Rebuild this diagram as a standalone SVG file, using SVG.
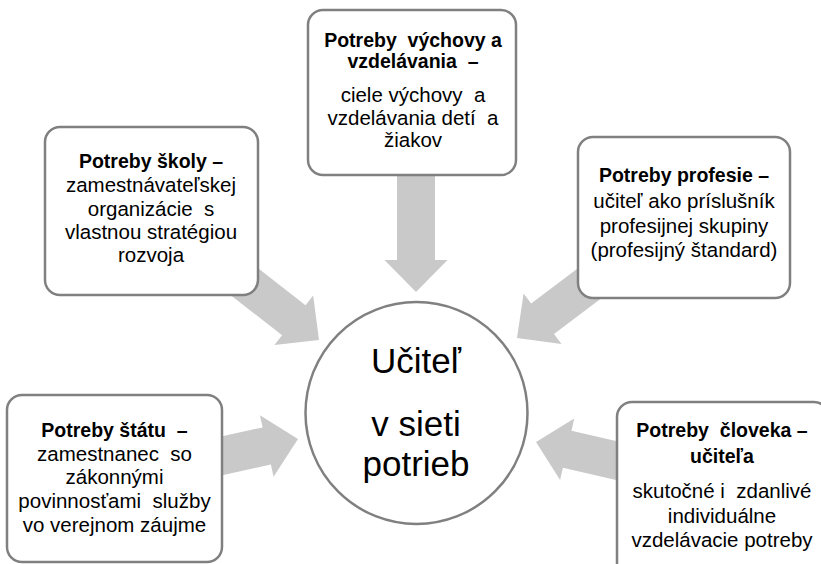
<svg xmlns="http://www.w3.org/2000/svg" width="821" height="564" viewBox="0 0 821 564">
<defs>
<style>
.box{fill:#fff;stroke:#808080;stroke-width:2.5}
.arr{fill:#c9c9c9;stroke:none}
text{font-family:"Liberation Sans",Arial,sans-serif;fill:#000;text-anchor:middle;white-space:pre}
.b{font-weight:bold;font-size:19.5px}
.r{font-size:20.5px}
.c{font-size:35px}
</style>
<polygon id="arrow" points="-130,-19 -32,-19 -32,-31.5 0,0 -32,31.5 -32,19 -130,19"/>
</defs>
<rect width="821" height="564" fill="#fff"/>
<g id="connectors">
<use href="#arrow" class="arr" transform="translate(416,292) rotate(90)"/>
<use href="#arrow" class="arr" transform="translate(319,340) rotate(38)"/>
<use href="#arrow" class="arr" transform="translate(517,338) rotate(143)"/>
<use href="#arrow" class="arr" transform="translate(298,439) rotate(-12.5)"/>
<use href="#arrow" class="arr" transform="translate(536,442) rotate(193)"/>
</g>
<g id="node-top">
<rect class="box" x="308" y="10" width="208" height="165" rx="15"/>
<text class="b" x="413" y="47">Potreby  výchovy a</text>
<text class="b" x="413" y="68">vzdelávania  –</text>
<text class="r" x="413" y="102">ciele výchovy  a</text>
<text class="r" x="413" y="125">vzdelávania detí  a</text>
<text class="r" x="413" y="147">žiakov</text>
</g>
<g id="node-skola">
<rect class="box" x="45" y="127" width="213" height="168" rx="15"/>
<text class="b" x="151" y="168">Potreby školy –</text>
<text class="r" x="151" y="192">zamestnávateľskej</text>
<text class="r" x="151" y="216">organizácie  s</text>
<text class="r" x="151" y="239">vlastnou stratégiou</text>
<text class="r" x="151" y="262">rozvoja</text>
</g>
<g id="node-profesia">
<rect class="box" x="578" y="137" width="212" height="161" rx="15"/>
<text class="b" x="684" y="182">Potreby profesie –</text>
<text class="r" x="684" y="208">učiteľ ako príslušník</text>
<text class="r" x="684" y="233">profesijnej skupiny</text>
<text class="r" x="684" y="257">(profesijný štandard)</text>
</g>
<g id="node-stat">
<rect class="box" x="7" y="395" width="215" height="167" rx="15"/>
<text class="b" x="114.5" y="437">Potreby štátu  –</text>
<text class="r" x="114.5" y="461">zamestnanec  so</text>
<text class="r" x="114.5" y="484">zákonnými</text>
<text class="r" x="114.5" y="508">povinnosťami  služby</text>
<text class="r" x="114.5" y="532">vo verejnom záujme</text>
</g>
<g id="node-clovek">
<rect class="box" x="617" y="402" width="212" height="180" rx="15"/>
<text class="b" x="722" y="437">Potreby  človeka –</text>
<text class="b" x="722" y="463">učiteľa</text>
<text class="r" x="722" y="498">skutočné i  zdanlivé</text>
<text class="r" x="722" y="523">individuálne</text>
<text class="r" x="722" y="547">vzdelávacie potreby</text>
</g>
<g id="node-ucitel">
<circle class="box" cx="416.5" cy="413" r="111"/>
<text class="c" x="416" y="373">Učiteľ</text>
<text class="c" x="416" y="436">v sieti</text>
<text class="c" x="416" y="476">potrieb</text>
</g>
</svg>
